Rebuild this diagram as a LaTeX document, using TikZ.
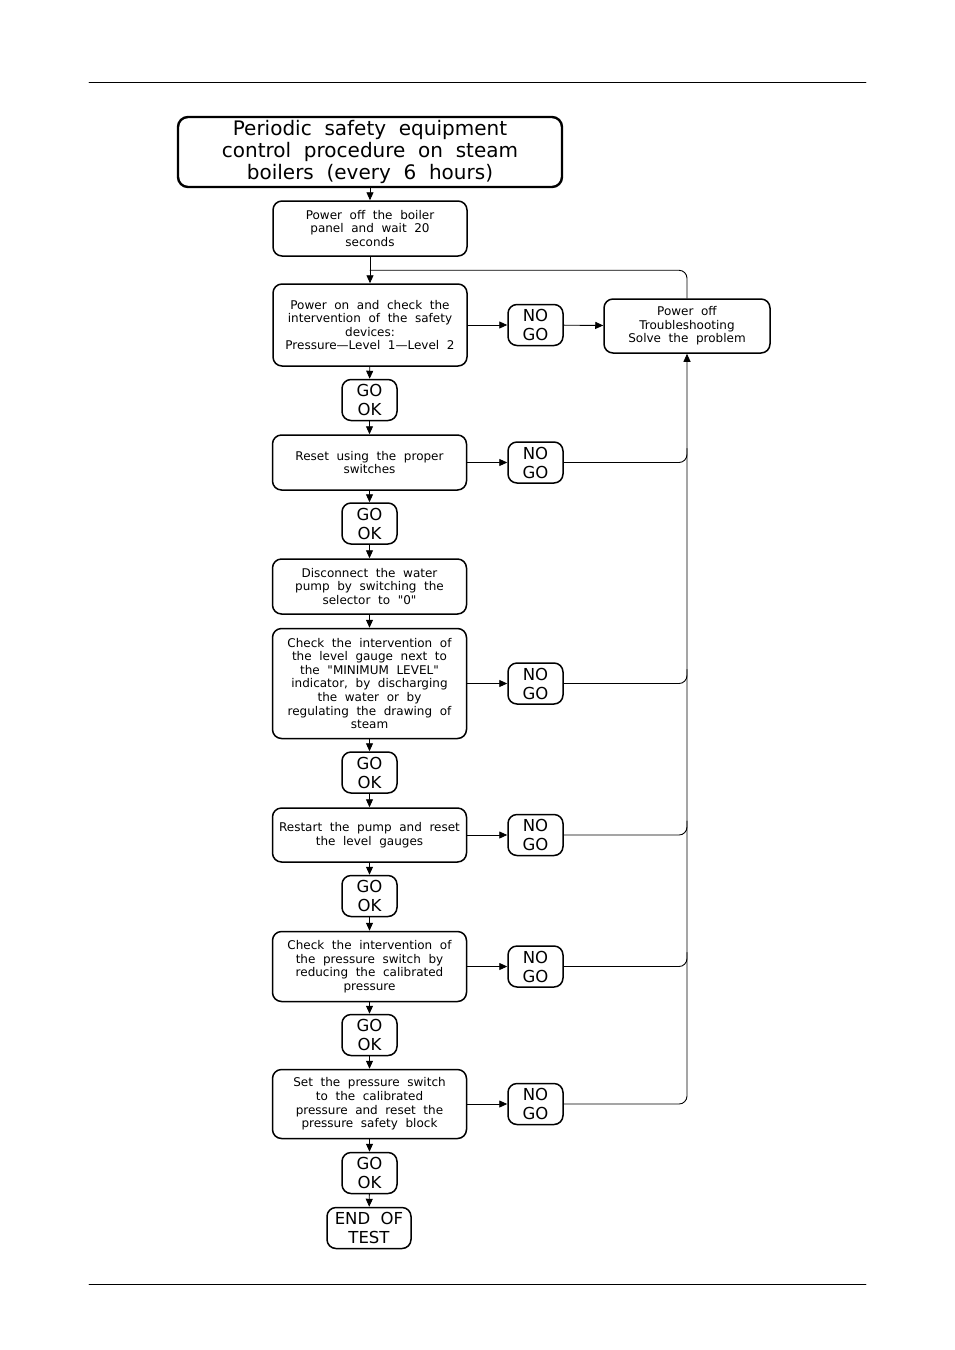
\documentclass[tikz,border=0pt]{standalone}
\usepackage{fontspec}
\setmainfont{DejaVu Sans}[WordSpace=2]
\usetikzlibrary{arrows.meta, positioning, calc}

\tikzset{
  stepbox/.style={draw, line width=1.5pt, rounded corners=9pt, minimum width=194pt,
    inner sep=0pt, align=center, font=\fontsize{12}{13.6}\selectfont},
  gobox/.style={draw, line width=1.5pt, rounded corners=9pt, minimum width=55pt,
    minimum height=41pt, inner sep=0pt, align=center, font=\fontsize{16.5}{19}\selectfont},
  titlebox/.style={draw, line width=2.4pt, rounded corners=10pt, minimum width=384pt,
    minimum height=70pt, inner sep=0pt, align=center, font=\fontsize{20}{22}\selectfont},
  flow/.style={line width=0.9pt, -{Triangle[length=8pt, width=7pt]}},
  link/.style={line width=0.9pt, rounded corners=8pt},
}

\begin{document}
\begin{tikzpicture}[x=1pt, y=-1pt, line cap=round, line join=round]
  \useasboundingbox (0,0) rectangle (954,1350);

  % page rules
  \draw[line width=0.8pt] (89,82) -- (866,82);
  \draw[line width=0.8pt] (89,1284) -- (866,1284);

  % title
  \node[titlebox] (title) at (370,152) {Periodic safety equipment\\control procedure on steam\\boilers (every 6 hours)};

  % steps
  \node[stepbox, minimum height=55pt] (s1) at (370,228.5) {Power off the boiler\\panel and wait 20\\seconds};
  \node[stepbox, minimum height=82pt] (s2) at (370,325) {Power on and check the\\intervention of the safety\\devices:\\Pressure---Level 1---Level 2};
  \node[stepbox, minimum height=55pt] (s3) at (369.5,462.5) {Reset using the proper\\switches};
  \node[stepbox, minimum height=55pt] (s4) at (369.5,586.5) {Disconnect the water\\pump by switching the\\selector to \textquotedbl0\textquotedbl};
  \node[stepbox, minimum height=110pt] (s5) at (369.5,683.5) {Check the intervention of\\the level gauge next to\\the \textquotedbl MINIMUM LEVEL\textquotedbl\\indicator, by discharging\\the water or by\\regulating the drawing of\\steam};
  \node[stepbox, minimum height=54pt] (s6) at (369.5,835) {Restart the pump and reset\\the level gauges};
  \node[stepbox, minimum height=70pt] (s7) at (369.5,966.5) {Check the intervention of\\the pressure switch by\\reducing the calibrated\\pressure};
  \node[stepbox, minimum height=69pt] (s8) at (369.5,1104) {Set the pressure switch\\to the calibrated\\pressure and reset the\\pressure safety block};

  % go / ok
  \node[gobox] (ok2) at (369.5,400) {GO\\OK};
  \node[gobox] (ok3) at (369.5,523.5) {GO\\OK};
  \node[gobox] (ok5) at (369.5,772.5) {GO\\OK};
  \node[gobox] (ok6) at (369.5,896) {GO\\OK};
  \node[gobox] (ok7) at (369.5,1035) {GO\\OK};
  \node[gobox] (ok8) at (369.5,1173) {GO\\OK};
  \node[gobox, minimum width=84pt] (end) at (369,1228) {END OF\\TEST};

  % no go
  \node[gobox] (no2) at (535.5,325) {NO\\GO};
  \node[gobox] (no3) at (535.5,462.5) {NO\\GO};
  \node[gobox] (no5) at (535.5,683.5) {NO\\GO};
  \node[gobox] (no6) at (535.5,835) {NO\\GO};
  \node[gobox] (no7) at (535.5,966.5) {NO\\GO};
  \node[gobox] (no8) at (535.5,1104) {NO\\GO};

  % troubleshooting
  \node[stepbox, minimum width=166pt, minimum height=54pt] (poff) at (687,326) {Power off\\Troubleshooting\\Solve the problem};

  % main line
  \draw[flow] (title) -- (s1);
  \draw[flow] (s1) -- (s2);
  \draw[flow] (s2) -- (ok2);
  \draw[flow] (ok2) -- (s3);
  \draw[flow] (s3) -- (ok3);
  \draw[flow] (ok3) -- (s4);
  \draw[flow] (s4) -- (s5);
  \draw[flow] (s5) -- (ok5);
  \draw[flow] (ok5) -- (s6);
  \draw[flow] (s6) -- (ok6);
  \draw[flow] (ok6) -- (s7);
  \draw[flow] (s7) -- (ok7);
  \draw[flow] (ok7) -- (s8);
  \draw[flow] (s8) -- (ok8);
  \draw[flow] (ok8) -- (end);

  % failures
  \foreach \i in {2,3,5,6,7,8}
    \draw[flow] (s\i.east) -- (no\i.west);
  \draw[flow] (no2) -- (poff);
  \draw[link] (poff.north) |- ($(s2.north)+(0,-13)$);
  \foreach \i in {3,5,6,7}
    \draw[link] (no\i.east) -| ($(no\i.east -| poff.south)+(0,-14)$);
  \draw[flow, rounded corners=8pt] (no8.east) -| (poff.south);
\end{tikzpicture}
\end{document}
